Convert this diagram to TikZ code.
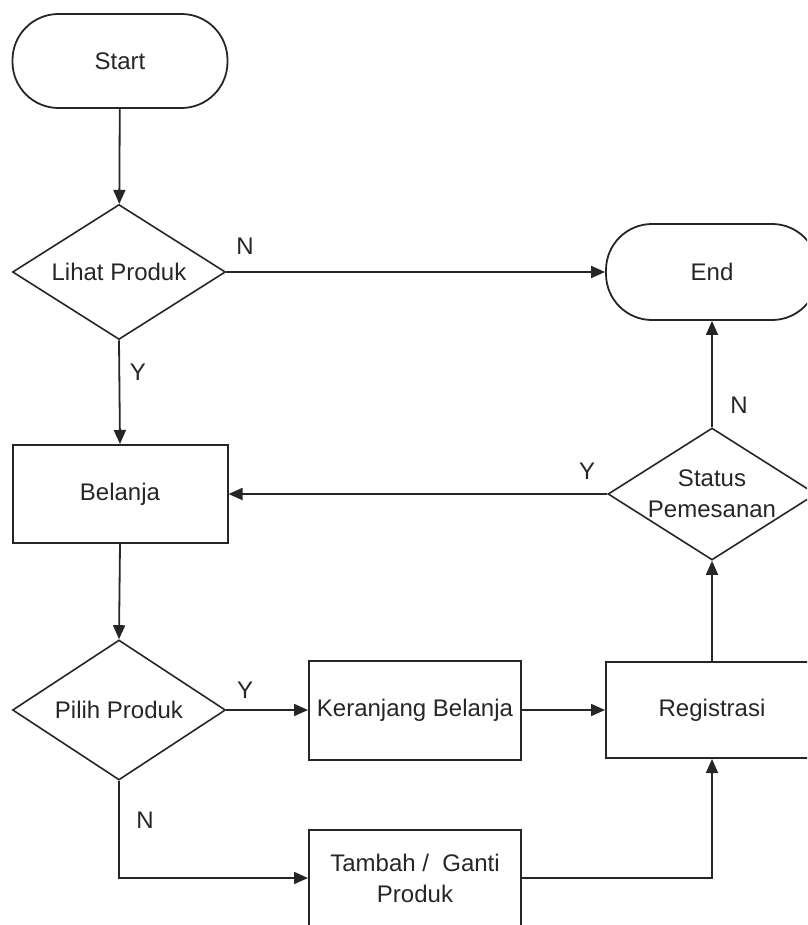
\documentclass[tikz,border=0pt]{standalone}
\usepackage{fontspec}
\setmainfont{Liberation Sans}
\usetikzlibrary{arrows.meta,shapes.geometric}
\begin{document}
\begin{tikzpicture}[x=1pt,y=-1pt,
  every node/.style={font=\fontsize{24}{31}\selectfont, text=black!85},
  term/.style={draw=black!85, line width=1.8pt, rectangle, rounded corners=46pt, minimum width=215pt, minimum height=94pt, inner sep=0pt},
  proc/.style={draw=black!85, line width=2pt, rectangle, inner sep=0pt},
  dec/.style={draw=black!85, line width=1.6pt, diamond, aspect=1.58, inner sep=0pt, align=center},
  flow/.style={draw=black!85, line width=1.8pt, -{Triangle[length=14pt,width=12pt]}},
  lbl/.style={inner sep=0pt}
]
\clip (0,0) rectangle (807,925);
\useasboundingbox (0,0) rectangle (807,925);
\node[term] (start) at (120,61) {Start};
\node[dec, minimum width=213pt, minimum height=135pt] (lihat) at (119,272) {Lihat Produk};
\node[term, minimum width=212pt, minimum height=96pt] (end) at (712,272) {End};
\node[proc, minimum width=215pt, minimum height=98pt] (belanja) at (120,494) {Belanja};
\node[dec, minimum width=208pt, minimum height=132pt] (status) at (712,494) {Status\\Pemesanan};
\node[dec, minimum width=213pt, minimum height=140pt] (pilih) at (119,710) {Pilih Produk};
\node[proc, minimum width=212pt, minimum height=99pt] (keranjang) at (415,710) {Keranjang Belanja};
\node[proc, minimum width=212pt, minimum height=96pt] (reg) at (712,710) {Registrasi};
\node[proc, minimum width=212pt, minimum height=96pt, align=center] (tambah) at (415,878) {Tambah / \ Ganti\\Produk};

\draw[flow] (start) -- (lihat);
\draw[flow] (lihat.east) -- (end.west);
\draw[flow] (lihat.south) -- (belanja.north);
\draw[flow] (belanja.south) -- (pilih.north);
\draw[flow] (pilih.east) -- (keranjang.west);
\draw[flow] (keranjang.east) -- (reg.west);
\draw[flow] (reg.north) -- (status.south);
\draw[flow] (status.north) -- (end.south);
\draw[flow] (status.west) -- (belanja.east);
\draw[flow] (pilih.south) |- (tambah.west);
\draw[flow] (tambah.east) -| (reg.south);

\node[lbl] (nl) at (245,246) {N};
\node[lbl] (yl) at (138,372) {Y};
\node[lbl] (ns) at (739,405) {N};
\node[lbl] (ys) at (587,471) {Y};
\node[lbl] (yp) at (245,690) {Y};
\node[lbl] (np) at (145,820) {N};
\end{tikzpicture}
\end{document}
